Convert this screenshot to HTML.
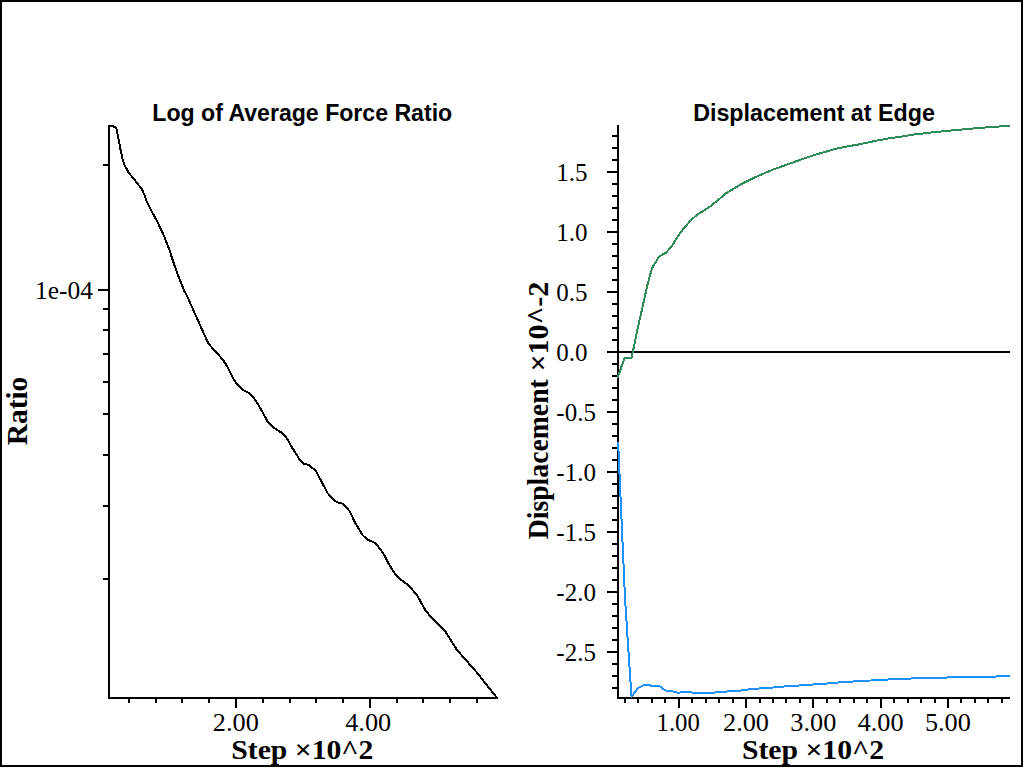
<!DOCTYPE html>
<html><head><meta charset="utf-8"><title>plot</title>
<style>
html,body{margin:0;padding:0;background:#fff;}
body{width:1024px;height:768px;overflow:hidden;position:relative;}
svg{position:absolute;left:0;top:0;}
.ax{stroke:#000;stroke-width:2;fill:none;shape-rendering:crispEdges;}
.cv{fill:none;stroke-width:2;shape-rendering:crispEdges;stroke-linejoin:round;stroke-linecap:butt;}
.t{font-family:"Liberation Sans",sans-serif;font-weight:bold;font-size:23.2px;fill:#000;}
.n{font-family:"Liberation Serif",serif;font-size:25px;fill:#000;}
.b{font-family:"Liberation Serif",serif;font-weight:bold;font-size:27px;fill:#000;}
</style></head><body>
<svg width="1024" height="768" viewBox="0 0 1024 768">
<rect x="0" y="0" width="1024" height="768" fill="#fff"/>
<rect x="1" y="1" width="1021" height="765" class="ax"/>

<text class="t" text-anchor="middle" transform="translate(302.25,120.6) scale(0.996,1.0)">Log of Average Force Ratio</text>
<path class="ax" d="M109 125V698"/>
<path class="ax" d="M108 698H498"/>
<path class="ax" d="M103 165H109M103 309H109M103 330H109M103 354H109M103 382H109M103 414H109M103 455H109M103 506H109M103 579H109M98 290H109"/>
<text class="n" text-anchor="end" transform="translate(93,298.5) scale(1.02,1.0)">1e-04</text>
<path class="ax" d="M129 698V703M156 698V703M182 698V703M209 698V703M236 698V708M263 698V703M290 698V703M316 698V703M343 698V703M370 698V708M397 698V703M423 698V703M450 698V703M477 698V703"/>
<text class="n" text-anchor="middle" transform="translate(235.8,731) scale(1.05,1.0)">2.00</text>
<text class="n" text-anchor="middle" transform="translate(368.2,731) scale(1.05,1.0)">4.00</text>
<text class="b" text-anchor="middle" transform="translate(302.35,759.3) scale(1.1,1.0)">Step ×10^2</text>
<text class="b" text-anchor="middle" transform="translate(27.0,411) rotate(-90) scale(1.09,1.08)">Ratio</text>
<polyline class="cv" stroke="#000" points="108.50,126.00 112.80,126.00 113.60,127.00 115.60,127.00 116.70,129.50 118.60,139.50 120.60,150.00 122.40,158.40 124.80,165.60 128.70,172.70 134.60,179.90 141.80,189.00 144.40,194.90 146.50,201.00 149.10,206.50 156.90,220.80 163.40,234.50 169.30,249.50 173.90,263.80 179.10,278.10 184.30,291.10 186.90,295.60 194.70,313.20 202.60,330.80 208.40,343.50 214.90,351.00 222.70,359.40 226.30,365.00 230.20,372.20 234.80,381.30 239.30,386.50 243.90,390.40 248.40,392.60 253.60,397.60 258.20,404.70 263.40,413.80 268.00,422.30 273.20,427.20 278.40,430.80 282.30,433.00 287.50,439.20 292.10,447.70 295.00,452.00 298.90,458.50 303.50,463.70 308.70,465.00 315.80,470.80 321.00,480.60 327.60,493.00 332.80,498.80 336.70,502.10 342.50,503.60 349.70,511.20 354.90,522.30 358.80,528.80 362.70,535.30 367.90,539.80 375.40,543.00 380.00,548.90 384.50,555.40 389.10,564.50 395.60,574.90 401.50,580.10 406.70,584.00 411.90,589.30 417.10,595.00 421.00,602.60 425.40,610.10 430.10,615.90 437.90,623.75 444.90,630.80 450.20,639.30 456.70,649.70 467.10,661.40 477.50,673.20 486.60,684.90 496.60,697.40"/>
<text class="t" text-anchor="middle" transform="translate(814,120.6) scale(1.003,1.0)">Displacement at Edge</text>
<path class="ax" d="M618 125V698"/>
<path class="ax" d="M617 698H1010"/>
<path class="ax" d="M607 352H1010"/>
<path class="ax" d="M612 688H618M612 676H618M612 664H618M607 652H618M612 640H618M612 628H618M612 616H618M612 604H618M607 592H618M612 580H618M612 568H618M612 556H618M612 544H618M607 532H618M612 520H618M612 508H618M612 496H618M612 484H618M607 472H618M612 460H618M612 448H618M612 436H618M612 424H618M607 412H618M612 400H618M612 388H618M612 376H618M612 364H618M607 352H618M612 340H618M612 328H618M612 316H618M612 304H618M607 292H618M612 280H618M612 268H618M612 256H618M612 244H618M607 232H618M612 220H618M612 208H618M612 196H618M612 184H618M607 172H618M612 160H618M612 148H618M612 136H618"/>
<text class="n" text-anchor="start" transform="translate(556.3,660.8) scale(1.0,1.0)">-2.5</text>
<text class="n" text-anchor="start" transform="translate(556.3,600.8) scale(1.0,1.0)">-2.0</text>
<text class="n" text-anchor="start" transform="translate(556.3,540.8) scale(1.0,1.0)">-1.5</text>
<text class="n" text-anchor="start" transform="translate(556.3,480.8) scale(1.0,1.0)">-1.0</text>
<text class="n" text-anchor="start" transform="translate(556.3,420.8) scale(1.0,1.0)">-0.5</text>
<text class="n" text-anchor="start" transform="translate(556.3,360.8) scale(1.0,1.0)">0.0</text>
<text class="n" text-anchor="start" transform="translate(556.3,300.8) scale(1.0,1.0)">0.5</text>
<text class="n" text-anchor="start" transform="translate(556.3,240.8) scale(1.0,1.0)">1.0</text>
<text class="n" text-anchor="start" transform="translate(556.3,180.8) scale(1.0,1.0)">1.5</text>
<path class="ax" d="M625 698V703M638 698V703M652 698V703M665 698V703M679 698V708M692 698V703M706 698V703M719 698V703M733 698V703M746 698V708M760 698V703M773 698V703M786 698V703M800 698V703M813 698V708M827 698V703M840 698V703M854 698V703M867 698V703M881 698V708M894 698V703M908 698V703M921 698V703M935 698V703M948 698V708M961 698V703M975 698V703M988 698V703M1002 698V703"/>
<text class="n" text-anchor="middle" transform="translate(678.2,731) scale(0.99,1.0)">1.00</text>
<text class="n" text-anchor="middle" transform="translate(746.0,731) scale(1.05,1.0)">2.00</text>
<text class="n" text-anchor="middle" transform="translate(813.3,731) scale(1.05,1.0)">3.00</text>
<text class="n" text-anchor="middle" transform="translate(880.6,731) scale(1.05,1.0)">4.00</text>
<text class="n" text-anchor="middle" transform="translate(947.9,731) scale(1.05,1.0)">5.00</text>
<text class="b" text-anchor="middle" transform="translate(813,759.3) scale(1.1,1.0)">Step ×10^2</text>
<text class="b" text-anchor="start" transform="translate(548.3,539.3) rotate(-90) scale(1.027,1.06)">Displacement</text>
<text class="b" text-anchor="end" transform="translate(548.3,281.8) rotate(-90) scale(1.115,1.06)">×10^-2</text>
<polyline class="cv" stroke="#2E8B57" points="617.60,377.90 624.65,357.70 631.50,358.30 637.00,331.60 644.10,300.00 647.80,283.30 651.90,268.40 655.10,263.20 659.00,256.60 662.30,254.70 666.20,252.70 672.05,245.60 679.90,233.20 685.10,226.70 692.20,218.90 698.10,214.10 708.50,207.60 717.60,200.50 726.25,193.10 740.00,184.85 755.00,177.30 772.50,169.80 790.00,163.50 813.00,155.40 835.00,149.00 847.90,146.30 858.50,144.50 867.90,142.50 877.30,140.50 888.40,138.50 901.90,136.50 914.20,134.50 931.20,132.50 951.10,130.50 973.40,128.50 985.10,127.50 999.00,126.50 1010.00,126.00"/>
<polyline class="cv" stroke="#1E90FF" points="618.10,442.00 625.00,598.00 629.70,670.00 631.60,697.00 634.60,692.50 638.10,688.10 641.50,686.10 645.40,684.80 649.30,684.80 651.25,685.80 659.10,685.80 663.00,689.00 666.40,690.80 671.80,691.00 673.70,692.00 676.60,692.30 678.60,693.00 681.00,692.30 691.30,692.30 695.00,693.00 712.50,693.00 714.80,692.50 727.30,691.50 740.90,690.50 747.70,689.50 759.40,688.50 773.40,687.50 784.40,686.50 799.20,685.50 813.30,684.50 826.90,683.50 838.30,682.50 853.10,681.50 870.60,680.50 888.10,679.50 910.90,678.50 947.20,677.50 996.40,676.50 1010.00,676.20"/>
</svg></body></html>
